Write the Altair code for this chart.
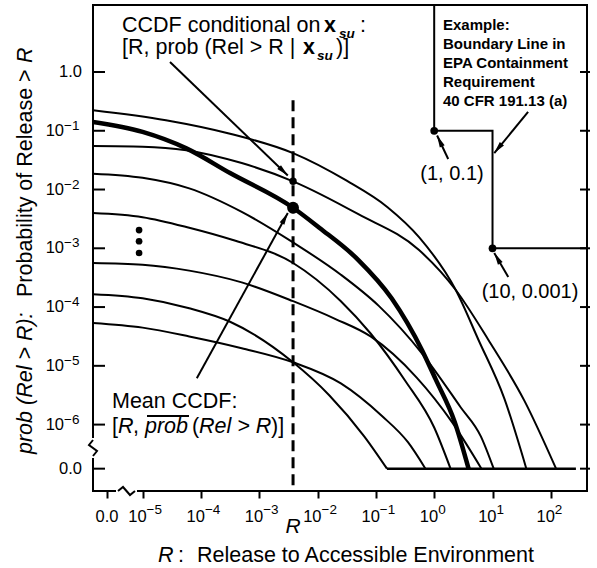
import math
import altair as alt
import pandas as pd

FONT = "Liberation Sans"

# ---- axes (log10 units) ----
X_MIN, X_MAX = -5.85, 2.62
Y_MIN, Y_MAX = -7.13, 1.14
W, H = 494, 486
PAD = {"left": 93, "top": 5, "right": 10, "bottom": 77}
KX = W / (X_MAX - X_MIN)
KY = H / (Y_MAX - Y_MIN)

x_tick_vals = [-5.61, -5, -4, -3, -2, -1, 0, 1, 2]
x_tick_base = ["0.0", "10", "10", "10", "10", "10", "10", "10", "10"]
x_tick_exp = ["", "−5", "−4", "−3", "−2", "−1", "0", "1", "2"]
y_tick_vals = [0, -1, -2, -3, -4, -5, -6, -6.75]
y_tick_base = ["1.0", "10", "10", "10", "10", "10", "10", "0.0"]
y_tick_exp = ["", "−1", "−2", "−3", "−4", "−5", "−6", ""]

ZERO = -6.75  # position of the "0.0" level on the broken axis

# ---- conditional CCDFs: log10 R, log10 prob ----
curve_A_x = [-5.85, -4.6, -3.5, -2.42, -1.5, -0.8, -0.26, 0.37, 0.76, 1.2, 1.58]
curve_A_y = [-0.65, -0.82, -1.05, -1.38, -1.85, -2.3, -2.81, -3.71, -4.56, -5.55, ZERO]
curve_B_x = [-5.85, -5.0, -4.25, -3.3, -2.42, -1.3, -0.26, 0.37, 0.93, 1.55, 2.09]
curve_B_y = [-1.26, -1.27, -1.33, -1.55, -1.86, -2.42, -3.03, -3.71, -4.56, -5.6, ZERO]
curve_C_x = [-5.85, -5.0, -4.2, -3.3, -2.42, -1.6, -0.95, -0.2, 0.45, 0.8, 1.02]
curve_C_y = [-1.73, -1.8, -1.98, -2.38, -2.9, -3.45, -3.98, -4.8, -5.7, -6.2, ZERO]
curve_D_x = [-5.85, -5.0, -4.2, -3.45, -2.42, -1.6, -1.09, -0.5, 0.0, 0.28]
curve_D_y = [-2.40, -2.47, -2.65, -2.86, -3.25, -3.9, -4.45, -5.25, -6.05, ZERO]
curve_E_x = [-5.85, -5.0, -4.2, -3.3, -2.42, -1.7, -1.09, -0.3, 0.3, 0.81]
curve_E_y = [-3.25, -3.28, -3.38, -3.58, -3.9, -4.2, -4.5, -5.2, -5.95, ZERO]
curve_F_x = [-5.85, -5.0, -4.2, -3.5, -2.42, -1.8, -1.2, -0.81]
curve_F_y = [-3.78, -3.85, -4.02, -4.25, -4.94, -5.5, -6.2, ZERO]
curve_G_x = [-5.85, -5.0, -4.2, -3.3, -2.42, -1.6, -0.9, -0.45, -0.15]
curve_G_y = [-4.27, -4.35, -4.5, -4.7, -4.94, -5.3, -5.85, -6.3, ZERO]

mean_x = [-5.85, -5.0, -4.25, -3.5, -2.42, -1.97, -1.3, -0.73, -0.2, 0.03, 0.35, 0.59]
mean_y = [-0.85, -1.02, -1.3, -1.72, -2.31, -2.65, -3.2, -3.85, -4.75, -5.24, -5.95, ZERO]

zero_line_x = [-0.81, 2.43]

R_value = -2.42
dashed_top = -0.48
cond_point = [-2.42, -1.86]
mean_point = [-2.42, -2.31]
ellipsis_x = [-5.06, -5.06, -5.06]
ellipsis_y = [-2.69, -2.88, -3.08]

boundary_x = [0, 0, 1, 1, X_MAX]
boundary_y = [Y_MAX, -1, -1, -3, -3]
boundary_pts_x = [0, 1]
boundary_pts_y = [-1, -3]

# arrows: tail x, tail y, tip x, tip y
arrow_tail_x = [-4.53, -4.07, 1.61, 0.24, 1.27]
arrow_tail_y = [0.17, -5.21, -0.68, -1.48, -3.49]
arrow_tip_x = [-2.51, -2.51, 1.03, 0.05, 1.03]
arrow_tip_y = [-1.76, -2.40, -1.38, -1.08, -3.08]

# axis break marks (pixel offsets from the axis lines)
ybreak_px = [0, -4, 4, 0]
ybreak_py = [435, 440, 446, 451]   # pixels below plot top
xbreak_px = [25, 30, 37, 42]       # pixels right of plot left
xbreak_py = [0, -4, 4, 0]          # pixels relative to bottom line

# ---- data frames ----
rows = []
for name in ["A", "B", "C", "D", "E", "F", "G"]:
    xs_ = globals()[f"curve_{name}_x"]
    ys_ = globals()[f"curve_{name}_y"]
    for i, (a, b) in enumerate(zip(xs_, ys_)):
        rows.append({"name": name, "i": i, "x": a, "y": b})
curves_df = pd.DataFrame(rows)
mean_df = pd.DataFrame({"name": "mean", "i": range(len(mean_x)), "x": mean_x, "y": mean_y})
zero_df = pd.DataFrame({"x": [zero_line_x[0]], "x2": [zero_line_x[1]], "y": [ZERO]})
dash_df = pd.DataFrame({"x": [R_value], "y": [dashed_top], "y2": [Y_MIN]})
boundary_df = pd.DataFrame({"i": range(len(boundary_x)), "x": boundary_x, "y": boundary_y})
bpts_df = pd.DataFrame({"x": boundary_pts_x, "y": boundary_pts_y})
cond_df = pd.DataFrame({"x": [cond_point[0]], "y": [cond_point[1]]})
meanpt_df = pd.DataFrame({"x": [mean_point[0]], "y": [mean_point[1]]})
ell_df = pd.DataFrame({"x": ellipsis_x, "y": ellipsis_y})

ang = []
for tx, ty, hx, hy in zip(arrow_tail_x, arrow_tail_y, arrow_tip_x, arrow_tip_y):
    sdx = (hx - tx) * KX
    sdy = -(hy - ty) * KY
    ang.append(math.degrees(math.atan2(sdx, -sdy)) % 360)
arrow_df = pd.DataFrame({"x": arrow_tail_x, "y": arrow_tail_y, "x2": arrow_tip_x,
                         "y2": arrow_tip_y, "angle": ang})
head_df = pd.DataFrame({"x": arrow_tip_x, "y": arrow_tip_y, "angle": ang})

lt_df = pd.DataFrame({"y": y_tick_vals, "x": X_MIN, "x2": X_MIN + 12 / KX})
rt_df = pd.DataFrame({"y": y_tick_vals, "x": X_MAX - 7 / KX, "x2": X_MAX + 3 / KX})

xlab_df = pd.DataFrame({"x": x_tick_vals, "base": x_tick_base, "exp": x_tick_exp})
ylab_df = pd.DataFrame({"y": y_tick_vals, "base": y_tick_base, "exp": y_tick_exp})

ybreak_df = pd.DataFrame({"i": range(4), "x": [X_MIN + p / KX for p in ybreak_px],
                          "y": [Y_MAX - p / KY for p in ybreak_py]})
xbreak_df = pd.DataFrame({"i": range(4), "x": [X_MIN + p / KX for p in xbreak_px],
                          "y": [Y_MIN - p / KY for p in xbreak_py]})
ycover_df = pd.DataFrame({"x": [X_MIN], "y": [Y_MAX - 433 / KY], "y2": [Y_MAX - 453 / KY]})
xcover_df = pd.DataFrame({"y": [Y_MIN], "x": [X_MIN + 23 / KX], "x2": [X_MIN + 44 / KX]})

xs = alt.Scale(domain=[X_MIN, X_MAX], nice=False, zero=False)
ys = alt.Scale(domain=[Y_MIN, Y_MAX], nice=False, zero=False)
xaxis = alt.Axis(values=x_tick_vals, labels=False, title=None, ticks=True, tickSize=7,
                 tickWidth=2, tickColor="black", domain=False, grid=False)


def X(f="x"):
    return alt.X(f"{f}:Q", scale=xs, axis=xaxis)


def Y(f="y"):
    return alt.Y(f"{f}:Q", scale=ys, axis=None)


layers = []
layers.append(alt.Chart(curves_df).mark_line(color="black", strokeWidth=2, interpolate="monotone", clip=True)
              .encode(x=X(), y=Y(), detail="name:N", order="i:Q"))
layers.append(alt.Chart(mean_df).mark_line(color="black", strokeWidth=4.5, interpolate="monotone", clip=True)
              .encode(x=X(), y=Y(), order="i:Q"))
layers.append(alt.Chart(zero_df).mark_rule(color="black", strokeWidth=2.5)
              .encode(x=X(), x2="x2:Q", y=Y()))
layers.append(alt.Chart(dash_df).mark_rule(color="black", strokeWidth=3, strokeDash=[11, 6])
              .encode(x=X(), y=Y(), y2="y2:Q"))
layers.append(alt.Chart(boundary_df).mark_line(color="black", strokeWidth=2)
              .encode(x=X(), y=Y(), order="i:Q"))
layers.append(alt.Chart(bpts_df).mark_point(filled=True, color="black", size=60, opacity=1)
              .encode(x=X(), y=Y()))
layers.append(alt.Chart(cond_df).mark_point(filled=True, color="black", size=55, opacity=1)
              .encode(x=X(), y=Y()))
layers.append(alt.Chart(meanpt_df).mark_point(filled=True, color="black", size=140, opacity=1)
              .encode(x=X(), y=Y()))
layers.append(alt.Chart(ell_df).mark_point(filled=True, color="black", size=45, opacity=1)
              .encode(x=X(), y=Y()))
layers.append(alt.Chart(arrow_df).mark_rule(color="black", strokeWidth=2)
              .encode(x=X(), y=Y(), x2="x2:Q", y2="y2:Q"))
layers.append(alt.Chart(head_df).mark_point(shape="M0,0 L0.45,2 L-0.45,2 Z", filled=True,
                                            color="black", size=144, opacity=1)
              .encode(x=X(), y=Y(), angle=alt.Angle("angle:Q", scale=None)))
layers.append(alt.Chart(lt_df).mark_rule(color="black", strokeWidth=2)
              .encode(x=X(), x2="x2:Q", y=Y()))
layers.append(alt.Chart(rt_df).mark_rule(color="black", strokeWidth=2, clip=False)
              .encode(x=X(), x2="x2:Q", y=Y()))
layers.append(alt.Chart(ycover_df).mark_rule(color="white", strokeWidth=5)
              .encode(x=X(), y=Y(), y2="y2:Q"))
layers.append(alt.Chart(xcover_df).mark_rule(color="white", strokeWidth=5)
              .encode(x=X(), x2="x2:Q", y=Y()))
layers.append(alt.Chart(ybreak_df).mark_line(color="black", strokeWidth=2)
              .encode(x=X(), y=Y(), order="i:Q"))
layers.append(alt.Chart(xbreak_df).mark_line(color="black", strokeWidth=2)
              .encode(x=X(), y=Y(), order="i:Q"))

# ---- tick labels with real superscripts ----
LBL = 16.5
EXP = 13.5
xl_y = 522 - PAD["top"]
layers.append(alt.Chart(xlab_df).transform_filter("datum.exp == ''")
              .mark_text(font=FONT, fontSize=LBL, align="center", baseline="alphabetic", color="black")
              .encode(x=X(), y=alt.value(xl_y), text="base:N"))
layers.append(alt.Chart(xlab_df).transform_filter("datum.exp != ''")
              .mark_text(font=FONT, fontSize=LBL, align="right", baseline="alphabetic", dx=4, color="black")
              .encode(x=X(), y=alt.value(xl_y), text="base:N"))
layers.append(alt.Chart(xlab_df).transform_filter("datum.exp != ''")
              .mark_text(font=FONT, fontSize=EXP, align="left", baseline="alphabetic", dx=4, color="black")
              .encode(x=X(), y=alt.value(xl_y - 8), text="exp:N"))
layers.append(alt.Chart(ylab_df).transform_filter("datum.exp == ''")
              .mark_text(font=FONT, fontSize=LBL, align="right", baseline="middle", color="black")
              .encode(x=alt.value(82 - PAD["left"]), y=Y(), text="base:N"))
layers.append(alt.Chart(ylab_df).transform_filter("datum.exp != ''")
              .mark_text(font=FONT, fontSize=LBL, align="right", baseline="middle", color="black")
              .encode(x=alt.value(64 - PAD["left"]), y=Y(), text="base:N"))
layers.append(alt.Chart(ylab_df).transform_filter("datum.exp != ''")
              .mark_text(font=FONT, fontSize=EXP, align="left", baseline="alphabetic", dy=-1, color="black")
              .encode(x=alt.value(64 - PAD["left"]), y=Y(), text="exp:N"))

one = pd.DataFrame({"a": [0]})


def txt(s, sx, sy, size=21.5, style="normal", weight="normal", align="left",
        baseline="alphabetic", angle=None):
    kw = dict(text=s, align=align, baseline=baseline, font=FONT, fontSize=size,
              fontStyle=style, fontWeight=weight, color="black")
    if angle is not None:
        kw["angle"] = angle
    return alt.Chart(one).mark_text(**kw).encode(x=alt.value(sx - PAD["left"]),
                                                  y=alt.value(sy - PAD["top"]))


# CCDF conditional annotation
layers += [
    txt("CCDF conditional on", 122, 32),
    txt("x", 324, 32, weight="bold"),
    txt("su", 339, 38, size=13.5, style="italic", weight="bold"),
    txt(":", 360, 32),
    txt("[R, prob (Rel > R |", 122, 54),
    txt("x", 303, 54, weight="bold"),
    txt("su", 317, 60, size=13.5, style="italic", weight="bold"),
    txt(")]", 336, 54),
]
# Mean CCDF annotation
layers += [
    txt("Mean CCDF:", 112, 408),
    txt("[", 112, 433),
    txt("R", 118, 433, style="italic"),
    txt(",", 133, 433),
    txt("prob", 145, 433, style="italic"),
    txt("(", 192, 433),
    txt("Rel > R", 199, 433, style="italic"),
    txt(")]", 271, 433),
]
layers.append(alt.Chart(one).mark_rule(color="black", strokeWidth=1.8)
              .encode(x=alt.value(147 - PAD["left"]), x2=alt.value(189 - PAD["left"]),
                      y=alt.value(416 - PAD["top"])))
# Example box text
for k, line in enumerate(["Example:", "Boundary Line in", "EPA Containment",
                          "Requirement", "40 CFR 191.13 (a)"]):
    layers.append(txt(line, 443, 30 + 19 * k, size=15, weight="bold"))
layers += [
    txt("(1, 0.1)", 452, 180, size=20, align="center"),
    txt("(10, 0.001)", 530, 298, size=20, align="center"),
    txt("R", 293, 533, size=21, style="italic", align="center"),
]
# x title
layers += [
    txt("R", 158, 562, style="italic"),
    txt(":", 178, 562),
    txt("Release to Accessible Environment", 197, 562),
]
# y title (rotated)
layers += [
    txt("prob", 26, 454, style="italic", baseline="middle", angle=270),
    txt("(Rel > R):", 26, 405, style="italic", baseline="middle", angle=270),
    txt("Probability of Release >", 26, 297, baseline="middle", angle=270),
    txt("R", 26, 63, style="italic", baseline="middle", angle=270),
]

chart = alt.layer(*layers).properties(
    width=W, height=H, padding=PAD, autosize=alt.AutoSizeParams(type="none"),
    background="white",
).configure_view(stroke="black", strokeWidth=2)

chart.save("out.html", embed_options={"renderer": "svg", "actions": False})
